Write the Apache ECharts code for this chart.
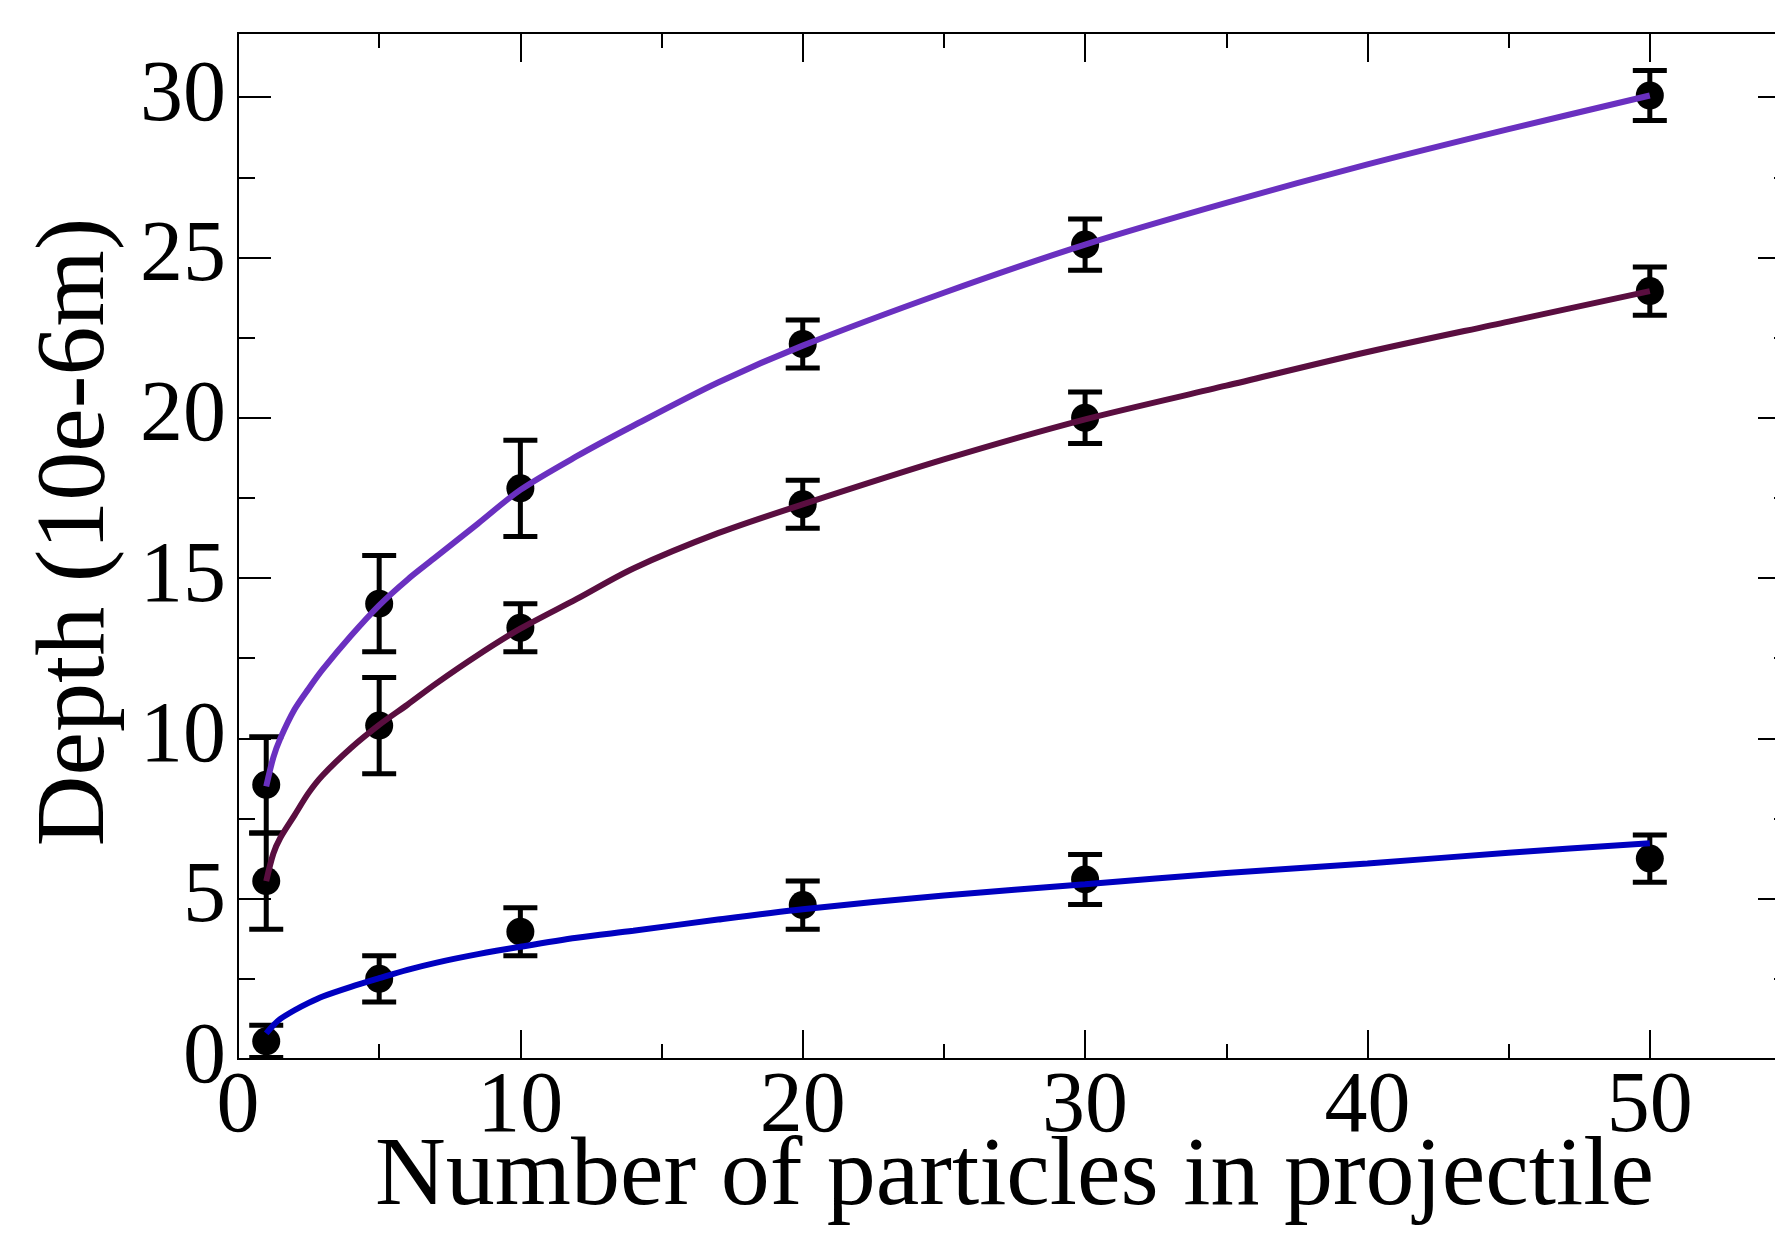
<!DOCTYPE html>
<html>
<head>
<meta charset="utf-8">
<script src="https://cdn.jsdelivr.net/npm/echarts@6/dist/echarts.min.js"></script>
<style>
html,body{margin:0;padding:0;background:#fff;}
#chart{width:1775px;height:1234px;}
</style>
</head>
<body>
<div id="chart"></div>
<script>
// Measured points (x = number of particles)
const pointX = [1, 5, 10, 20, 30, 50];
const purpleY = [8.55, 14.2, 17.8, 22.3, 25.4, 30.05];
const purpleErr = [1.5, 1.5, 1.5, 0.75, 0.8, 0.78];
const maroonY = [5.55, 10.4, 13.45, 17.3, 20.0, 23.95];
const maroonErr = [1.5, 1.5, 0.75, 0.75, 0.8, 0.75];
const blueY = [0.55, 2.5, 3.97, 4.8, 5.6, 6.25];
const blueErr = [0.5, 0.72, 0.75, 0.75, 0.78, 0.74];

// Fitted curves
const fitX = [1, 1.25, 1.5, 2, 2.5, 3, 4, 5, 6, 7, 8.5, 10, 12, 14, 17, 20, 25, 30, 35, 40, 45, 50];
const purpleFit = [8.5, 9.4, 10.0, 10.9, 11.55, 12.15, 13.2, 14.15, 14.95, 15.65, 16.7, 17.75, 18.8, 19.75, 21.1, 22.25, 23.9, 25.4, 26.7, 27.9, 29.0, 30.05];
const maroonFit = [5.55, 6.4, 6.9, 7.6, 8.3, 8.85, 9.7, 10.42, 11.05, 11.7, 12.6, 13.42, 14.35, 15.3, 16.4, 17.3, 18.7, 19.95, 21.0, 22.05, 23.0, 23.95];
const blueFit = [0.8, 1.05, 1.25, 1.52, 1.75, 1.95, 2.25, 2.52, 2.78, 3.0, 3.27, 3.5, 3.78, 4.0, 4.35, 4.67, 5.1, 5.45, 5.8, 6.1, 6.43, 6.73];

// Tick labels
const xTickLabels = ['0', '10', '20', '30', '40', '50'];
const yTickLabels = ['0', '5', '10', '15', '20', '25', '30'];

const FONT = 'Liberation Serif';
const chart = echarts.init(document.getElementById('chart'), null, {renderer: 'canvas'});

function pairs(xs, ys) { return xs.map((x, i) => [x, ys[i]]); }
function errData(xs, ys, es) { return xs.map((x, i) => [x, ys[i] - es[i], ys[i] + es[i]]); }

const axisLine = {show: true, onZero: false, lineStyle: {color: '#000', width: 2}};
function xAx(pos, interval, len, labels) {
  return {
    type: 'value', position: pos, min: 0, max: 55, interval: interval,
    axisLine: axisLine,
    axisTick: {show: true, inside: true, length: len, lineStyle: {color: '#000', width: 2}},
    axisLabel: labels ? {
      show: true, fontFamily: FONT, fontSize: 86, color: '#000', margin: 6,
      formatter: v => xTickLabels.indexOf(String(v)) >= 0 ? String(v) : ''
    } : {show: false},
    splitLine: {show: false}
  };
}
function yAx(pos, interval, len, labels) {
  return {
    type: 'value', position: pos, min: 0, max: 32, interval: interval,
    axisLine: axisLine,
    axisTick: {show: true, inside: true, length: len, lineStyle: {color: '#000', width: 2}},
    axisLabel: labels ? {
      show: true, fontFamily: FONT, fontSize: 86, color: '#000', margin: 12,
      formatter: v => yTickLabels.indexOf(String(v)) >= 0 ? String(v) : ''
    } : {show: false},
    splitLine: {show: false}
  };
}

const xMain = xAx('bottom', 10, 29, true);
xMain.name = 'Number of particles in projectile';
xMain.nameLocation = 'middle';
xMain.nameGap = 70;
xMain.nameMoveOverlap = false;
xMain.nameTextStyle = {fontFamily: FONT, fontSize: 98, color: '#000'};
const yMain = yAx('left', 5, 33, true);
yMain.name = 'Depth (10e-6m)';
yMain.nameLocation = 'middle';
yMain.nameRotate = 90;
yMain.nameGap = 112;
yMain.nameMoveOverlap = false;
yMain.nameTextStyle = {fontFamily: FONT, fontSize: 98, color: '#000', padding: [0, 0, 0, 28]};

function errSeries(xs, ys, es) {
  return {
    type: 'custom', xAxisIndex: 0, yAxisIndex: 0, z: 3,
    data: errData(xs, ys, es),
    renderItem: function (params, api) {
      const lo = api.coord([api.value(0), api.value(1)]);
      const hi = api.coord([api.value(0), api.value(2)]);
      const hw = 17;
      const st = {stroke: '#000', lineWidth: 5};
      return {type: 'group', children: [
        {type: 'line', shape: {x1: lo[0], y1: lo[1], x2: hi[0], y2: hi[1]}, style: st},
        {type: 'line', shape: {x1: lo[0] - hw, y1: lo[1], x2: lo[0] + hw, y2: lo[1]}, style: st},
        {type: 'line', shape: {x1: hi[0] - hw, y1: hi[1], x2: hi[0] + hw, y2: hi[1]}, style: st}
      ]};
    }
  };
}
function dotSeries(xs, ys) {
  return {type: 'scatter', xAxisIndex: 0, yAxisIndex: 0, z: 4, symbol: 'circle', symbolSize: 28,
    itemStyle: {color: '#000', opacity: 1}, data: pairs(xs, ys)};
}
function fitSeries(ys, color) {
  return {type: 'line', xAxisIndex: 0, yAxisIndex: 0, z: 5, smooth: 0.3, symbol: 'none',
    lineStyle: {color: color, width: 6}, data: pairs(fitX, ys)};
}

chart.setOption({
  animation: false,
  backgroundColor: '#fff',
  grid: {left: 238, top: 33, width: 1553, height: 1026, containLabel: false, outerBoundsMode: 'none'},
  xAxis: [xMain, xAx('bottom', 5, 15, false), xAx('top', 10, 29, false), xAx('top', 5, 15, false)],
  yAxis: [yMain, yAx('left', 2.5, 17, false), yAx('right', 5, 33, false), yAx('right', 2.5, 17, false)],
  series: [
    errSeries(pointX, purpleY, purpleErr),
    errSeries(pointX, maroonY, maroonErr),
    errSeries(pointX, blueY, blueErr),
    dotSeries(pointX, purpleY),
    dotSeries(pointX, maroonY),
    dotSeries(pointX, blueY),
    fitSeries(purpleFit, '#6a30c0'),
    fitSeries(maroonFit, '#5a0e40'),
    fitSeries(blueFit, '#0000c0')
  ]
});
</script>
</body>
</html>
